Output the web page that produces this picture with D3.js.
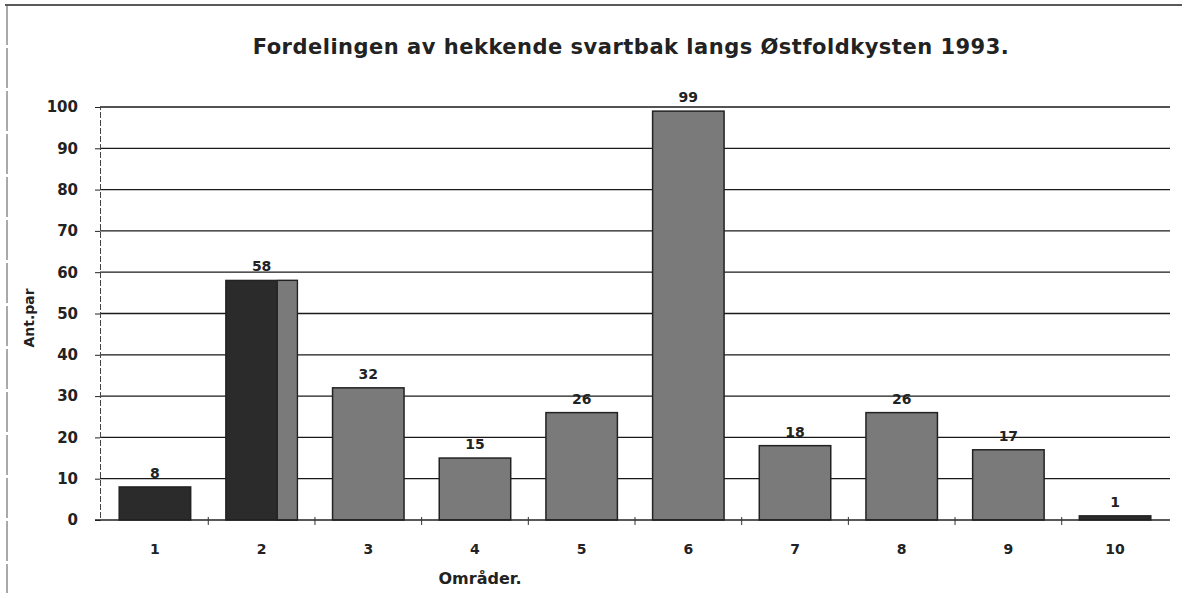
<!DOCTYPE html>
<html><head><meta charset="utf-8">
<script src="https://cdn.jsdelivr.net/npm/d3@7"></script>
<style>
html,body{margin:0;padding:0;background:#fff;}
svg{display:block;font-family:"DejaVu Sans",Arial,sans-serif;}
</style></head>
<body>
<svg id="chart" width="1186" height="598"></svg>
<script>
const categories = ["1","2","3","4","5","6","7","8","9","10"];
const values = [8, 58, 32, 15, 26, 99, 18, 26, 17, 1];
const yTicks = [0,10,20,30,40,50,60,70,80,90,100];
const titleText = "Fordelingen av hekkende svartbak langs Østfoldkysten 1993.";
const yLabel = "Ant.par";
const xLabel = "Områder.";
const darkBars = ["1","2","10"];

const svg = d3.select("#chart");
const m = {left:100, right:1170, top:107, bottom:520};

// frame (scanned page border)
svg.append("line").attr("x1",5).attr("x2",1182).attr("y1",5).attr("y2",5).attr("stroke","#222").attr("stroke-width",1.5);
svg.append("line").attr("x1",7).attr("x2",7).attr("y1",5).attr("y2",593).attr("stroke","#555").attr("stroke-width",1).attr("stroke-dasharray","40,3");

const x = d3.scaleBand().domain(categories).range([m.left, m.right]).paddingInner(0.33).paddingOuter(0.18);
const y = d3.scaleLinear().domain([0,100]).range([m.bottom, m.top]);

// gridlines
svg.append("g").selectAll("line").data(yTicks.filter(d=>d>0)).join("line")
  .attr("x1", m.left).attr("x2", m.right)
  .attr("y1", d=>y(d)).attr("y2", d=>y(d))
  .attr("stroke","#1a1a1a").attr("stroke-width",1.3);

// y axis
const yAxis = svg.append("g").attr("transform",`translate(${m.left},0)`)
  .call(d3.axisLeft(y).tickValues(yTicks).tickSize(5).tickPadding(17).tickFormat(d3.format("d")));
yAxis.select(".domain").attr("stroke","#444").attr("stroke-dasharray","6,2");
yAxis.selectAll(".tick line").attr("stroke","#222");
yAxis.selectAll("text").attr("font-family","DejaVu Sans").attr("font-size",15).attr("font-weight","bold").attr("fill","#222");

// bars
svg.append("g").selectAll("rect").data(values).join("rect")
  .attr("x",(d,i)=>x(categories[i]))
  .attr("y",d=>y(d))
  .attr("width",x.bandwidth())
  .attr("height",d=>y(0)-y(d))
  .attr("fill",(d,i)=>darkBars.includes(categories[i]) ? "#2b2b2b" : "#7a7a7a")
  .attr("stroke","#222").attr("stroke-width",1.5);

// scan artifact: grey strip on bar 2
const i2 = categories.indexOf("2");
svg.append("rect")
  .attr("x", x("2") + x.bandwidth()*0.72)
  .attr("y", y(values[i2]))
  .attr("width", x.bandwidth()*0.28)
  .attr("height", y(0)-y(values[i2]))
  .attr("fill","#7a7a7a").attr("stroke","#222").attr("stroke-width",1.2);

// x axis
const xAxisG = svg.append("g").attr("transform",`translate(0,${m.bottom})`);
xAxisG.append("line").attr("x1",m.left-5).attr("x2",m.right).attr("stroke","#222").attr("stroke-width",1.3);
const bounds = categories.slice(1).map(c => x(c) - x.step()*x.paddingInner()/2);
xAxisG.selectAll("line.tk").data(bounds).join("line").attr("class","tk")
  .attr("x1",d=>d).attr("x2",d=>d).attr("y1",-3).attr("y2",5).attr("stroke","#333");
xAxisG.selectAll("text").data(categories).join("text")
  .attr("x",d=>x(d)+x.bandwidth()/2).attr("y",34)
  .attr("text-anchor","middle").attr("font-size",14).attr("font-weight","bold").attr("fill","#222")
  .text(d=>d);

// value labels
svg.append("g").selectAll("text").data(values).join("text")
  .attr("x",(d,i)=>x(categories[i])+x.bandwidth()/2)
  .attr("y",d=>y(d)-9)
  .attr("text-anchor","middle").attr("font-size",14).attr("font-weight","bold").attr("fill","#222")
  .text(d=>d);

// title
svg.append("text").attr("x",631).attr("y",54).attr("text-anchor","middle")
  .attr("font-size",21).attr("font-weight","bold").attr("letter-spacing",0.5).attr("fill","#222").text(titleText);

// axis titles
svg.append("text").attr("transform","translate(34,318) rotate(-90)").attr("text-anchor","middle")
  .attr("font-size",14).attr("font-weight","bold").attr("fill","#222").text(yLabel);
svg.append("text").attr("x",480).attr("y",584).attr("text-anchor","middle")
  .attr("font-size",16).attr("font-weight","bold").attr("fill","#222").text(xLabel);
</script>
</body></html>
